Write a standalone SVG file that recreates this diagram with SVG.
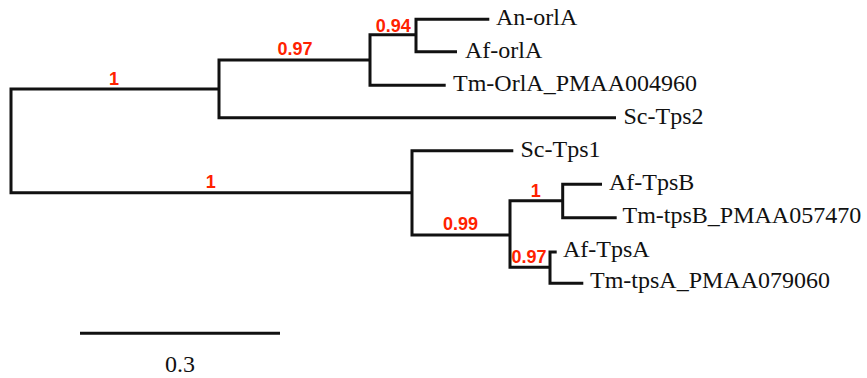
<svg xmlns="http://www.w3.org/2000/svg" width="867" height="378" viewBox="0 0 867 378">
<style>
.br{fill:none;stroke:#111;stroke-width:3;stroke-linejoin:miter;stroke-linecap:butt}
.leaf{font-family:"Liberation Serif","Times New Roman",serif;font-size:24px;fill:#111}
.sup{font-family:"Liberation Sans",Arial,sans-serif;font-weight:bold;font-size:18px;fill:#ff2200;text-anchor:middle}
</style>
<rect width="867" height="378" fill="#fff"/>
<g id="connectors">
<path class="br" d="M219,89 H11 V192.7 H412"/>
<path class="br" d="M370,60 H219 V117.7 H616"/>
<path class="br" d="M416,34.7 H370 V85.3 H445.7"/>
<path class="br" d="M489.3,19.3 H416 V51.7 H457"/>
<path class="br" d="M513.3,150.7 H412 V235 H510"/>
<path class="br" d="M562.7,200.7 H510 V267.3 H550"/>
<path class="br" d="M602,184.3 H562.7 V217.7 H616.7"/>
<path class="br" d="M556.7,252 H550 V283.3 H583.3"/>
</g>
<g id="support">
<text class="sup" x="114" y="85">1</text>
<text class="sup" x="295" y="55">0.97</text>
<text class="sup" x="393.3" y="31.7">0.94</text>
<text class="sup" x="210.8" y="188.3">1</text>
<text class="sup" x="460.5" y="230">0.99</text>
<text class="sup" x="535.8" y="196.7">1</text>
<text class="sup" x="529" y="263.3">0.97</text>
</g>
<g id="leaf-An-orlA"><text class="leaf" x="496" y="25.3">An-orlA</text></g>
<g id="leaf-Af-orlA"><text class="leaf" x="465" y="57.5">Af-orlA</text></g>
<g id="leaf-Tm-OrlA"><text class="leaf" x="453" y="90.5">Tm-OrlA_PMAA004960</text></g>
<g id="leaf-Sc-Tps2"><text class="leaf" x="623.5" y="124">Sc-Tps2</text></g>
<g id="leaf-Sc-Tps1"><text class="leaf" x="520.5" y="157">Sc-Tps1</text></g>
<g id="leaf-Af-TpsB"><text class="leaf" x="609" y="190">Af-TpsB</text></g>
<g id="leaf-Tm-tpsB"><text class="leaf" x="622.5" y="222.7">Tm-tpsB_PMAA057470</text></g>
<g id="leaf-Af-TpsA"><text class="leaf" x="563" y="256.7">Af-TpsA</text></g>
<g id="leaf-Tm-tpsA"><text class="leaf" x="590" y="288.3">Tm-tpsA_PMAA079060</text></g>
<g id="scale-bar">
<path class="br" d="M80,333.3 H280"/>
<text class="leaf" x="180" y="371.7" text-anchor="middle">0.3</text>
</g>
</svg>
